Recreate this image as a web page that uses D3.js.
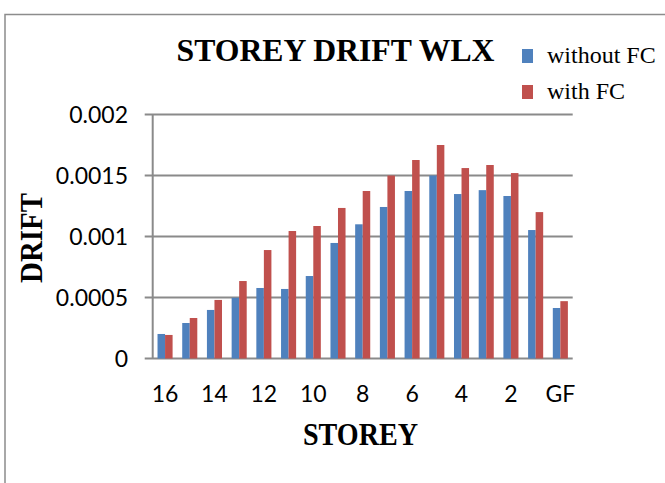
<!DOCTYPE html>
<html>
<head>
<meta charset="utf-8">
<script src="https://cdn.jsdelivr.net/npm/d3@7/dist/d3.min.js"></script>
<style>
  html, body { margin: 0; padding: 0; background: #fff; }
  svg { display: block; }
</style>
</head>
<body>
<div id="vis"></div>
<script>
// storey labels, top floor first
const storeys = ["16", "15", "14", "13", "12", "11", "10", "9", "8", "7", "6", "5", "4", "3", "2", "1", "GF"];
const withoutFC = [0.000201, 0.000291, 0.000398, 0.000498, 0.000578, 0.00057, 0.000676, 0.000947, 0.0011,
                   0.001242, 0.001373, 0.0015, 0.001348, 0.00138, 0.001332, 0.001053, 0.000414];
const withFC = [0.000193, 0.000332, 0.00048, 0.000635, 0.000889, 0.001045, 0.001086, 0.001234, 0.001373,
                0.0015, 0.001627, 0.00175, 0.001561, 0.001586, 0.00152, 0.0012, 0.00047];
const seriesNames = ["without FC", "with FC"];
const yTicks = [0, 0.0005, 0.001, 0.0015, 0.002];

const width = 665, height = 483;
const colors = ["#4F81BD", "#C0504D"];
const plot = { left: 152.7, right: 572.7, top: 114.5, bottom: 358.5 };

const svg = d3.select("#vis").append("svg")
  .attr("width", width)
  .attr("height", height);

// outer chart border (runs off right and bottom edge)
svg.append("rect")
  .attr("x", 5).attr("y", 14.5)
  .attr("width", 700).attr("height", 500)
  .attr("fill", "none")
  .attr("stroke", "#8c8c8c")
  .attr("stroke-width", 1.5);

const x0 = d3.scaleBand()
  .domain(storeys)
  .range([plot.left, plot.right])
  .paddingInner(0.39)
  .paddingOuter(0.195);

const x1 = d3.scaleBand()
  .domain(seriesNames)
  .range([0, x0.bandwidth()]);

const y = d3.scaleLinear()
  .domain([0, 0.002])
  .range([plot.bottom, plot.top]);

// gridlines
svg.append("g")
  .selectAll("line")
  .data(yTicks)
  .join("line")
  .attr("x1", plot.left - 8)
  .attr("x2", plot.right)
  .attr("y1", d => y(d))
  .attr("y2", d => y(d))
  .attr("stroke", "#8a8a8a")
  .attr("stroke-width", 2);

// y axis line
svg.append("line")
  .attr("x1", plot.left).attr("x2", plot.left)
  .attr("y1", plot.top).attr("y2", plot.bottom)
  .attr("stroke", "#8a8a8a")
  .attr("stroke-width", 2);

// y tick labels
svg.append("g")
  .selectAll("text")
  .data(yTicks)
  .join("text")
  .attr("x", 128)
  .attr("y", d => y(d))
  .attr("dy", "0.35em")
  .attr("text-anchor", "end")
  .attr("font-family", "Lato, 'Liberation Sans', sans-serif")
  .attr("font-size", 23)
  .attr("fill", "#000")
  .text(d => d === 0 ? "0" : String(d));

// bars
const rows = storeys.map((s, i) => ({ storey: s, values: [withoutFC[i], withFC[i]] }));

svg.append("g")
  .selectAll("g")
  .data(rows)
  .join("g")
  .attr("transform", d => `translate(${x0(d.storey)},0)`)
  .selectAll("rect")
  .data(d => d.values.map((v, k) => ({ key: seriesNames[k], value: v, k })))
  .join("rect")
  .attr("x", d => x1(d.key))
  .attr("y", d => y(d.value))
  .attr("width", x1.bandwidth())
  .attr("height", d => y(0) - y(d.value))
  .attr("fill", d => colors[d.k]);

// x tick labels, every other storey
svg.append("g")
  .selectAll("text")
  .data(storeys.filter((s, i) => i % 2 === 0))
  .join("text")
  .attr("x", d => x0(d) + x0.bandwidth() / 2)
  .attr("y", 402)
  .attr("text-anchor", "middle")
  .attr("font-family", "Lato, 'Liberation Sans', sans-serif")
  .attr("font-size", 23)
  .attr("fill", "#000")
  .text(d => d);

// titles
const serif = "'Liberation Serif', 'Times New Roman', serif";

svg.append("text")
  .attr("x", 335.5)
  .attr("y", 61)
  .attr("text-anchor", "middle")
  .attr("font-family", serif)
  .attr("font-weight", "bold")
  .attr("font-size", 32)
  .attr("textLength", 318)
  .attr("lengthAdjust", "spacingAndGlyphs")
  .text("STOREY DRIFT WLX");

svg.append("text")
  .attr("x", 360.5)
  .attr("y", 445)
  .attr("text-anchor", "middle")
  .attr("font-family", serif)
  .attr("font-weight", "bold")
  .attr("font-size", 31)
  .attr("textLength", 115)
  .attr("lengthAdjust", "spacingAndGlyphs")
  .text("STOREY");

svg.append("text")
  .attr("transform", "translate(42,238) rotate(-90)")
  .attr("text-anchor", "middle")
  .attr("font-family", serif)
  .attr("font-weight", "bold")
  .attr("font-size", 31)
  .attr("textLength", 90)
  .attr("lengthAdjust", "spacingAndGlyphs")
  .text("DRIFT");

// legend
const legend = svg.append("g")
  .selectAll("g")
  .data(seriesNames)
  .join("g")
  .attr("transform", (d, i) => `translate(522,${49 + i * 36})`);

legend.append("rect")
  .attr("width", 11)
  .attr("height", 14)
  .attr("fill", (d, i) => colors[i]);

legend.append("text")
  .attr("x", 25)
  .attr("y", 14)
  .attr("font-family", serif)
  .attr("font-size", 24)
  .text(d => d);
</script>
</body>
</html>
